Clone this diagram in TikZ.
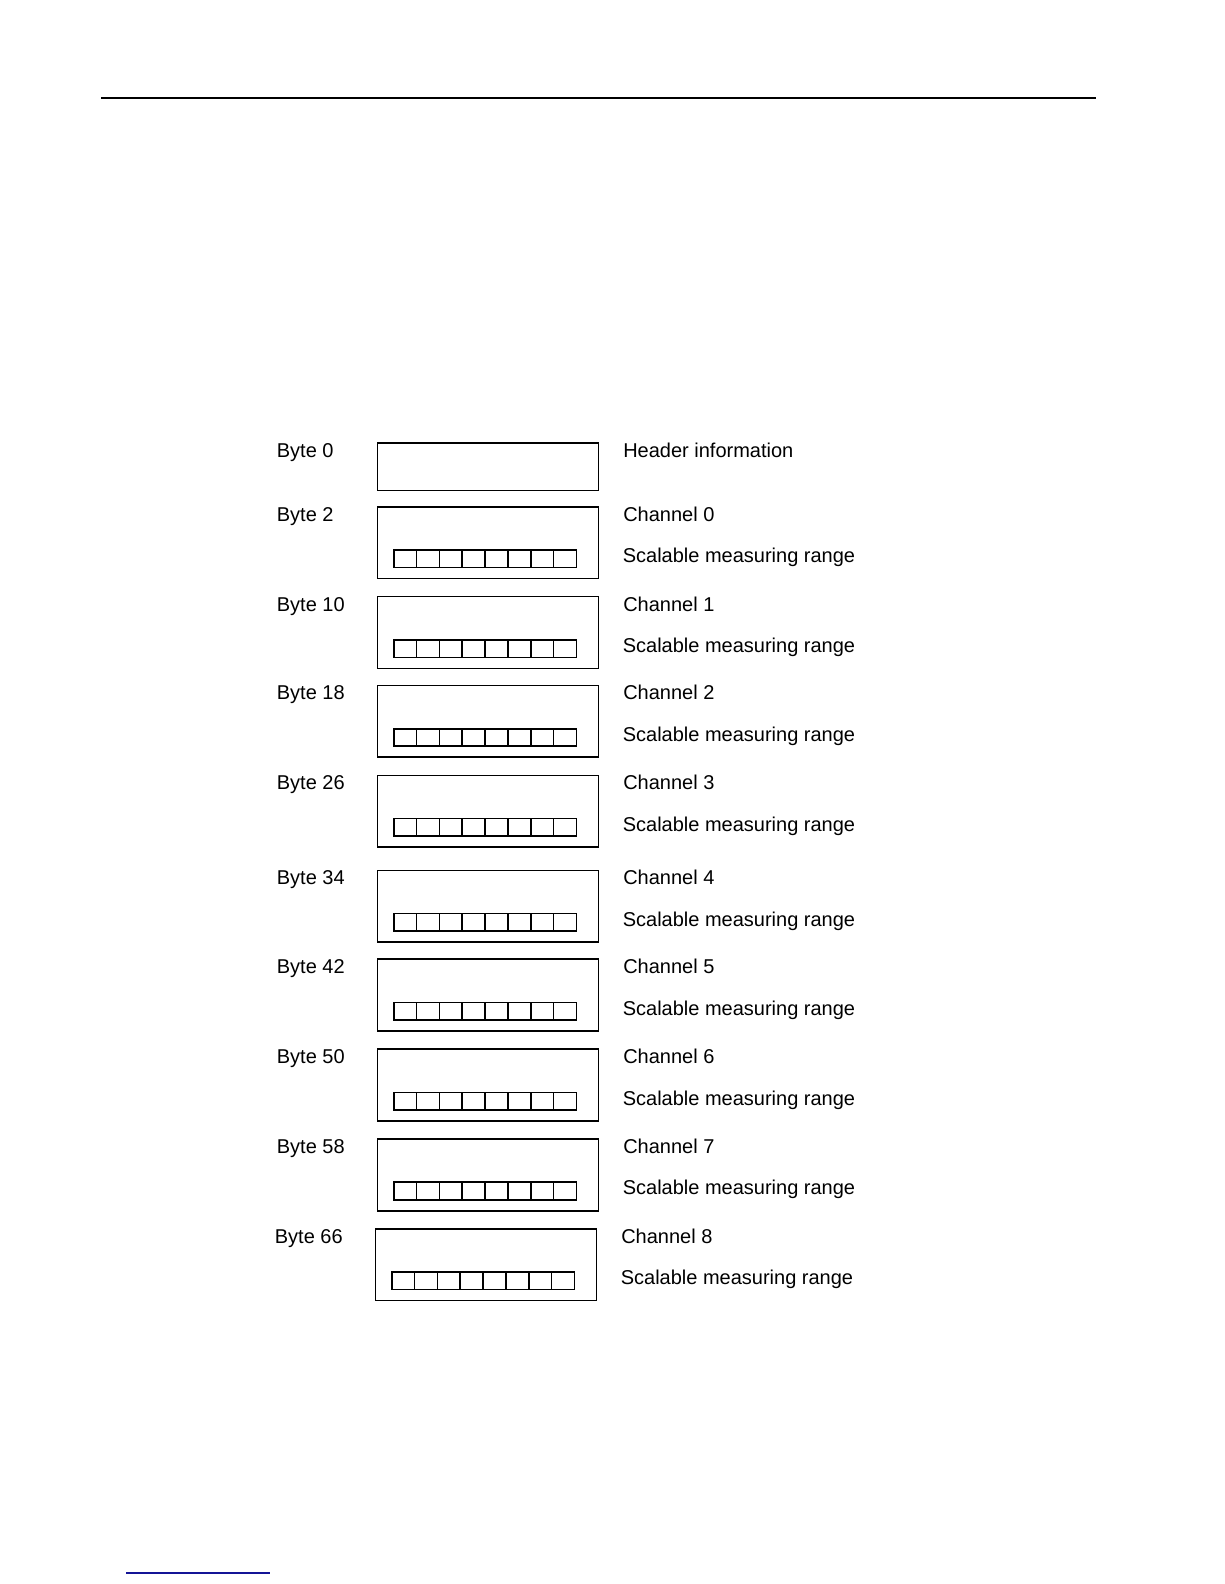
\documentclass[tikz,border=0pt]{standalone}
\usepackage{fontspec}
\setmainfont{Liberation Sans}
\definecolor{linkblue}{RGB}{20,20,150}
\begin{document}
\begin{tikzpicture}[x=1pt,y=-1pt,
  lab/.style={anchor=base west, inner sep=0pt, font=\fontsize{20}{24}\selectfont},
  frame/.style={draw, line width=1.6pt, inner sep=0pt, anchor=north west, minimum width=221pt, minimum height=71.7pt},
  hdrframe/.style={frame, minimum height=47.5pt},
  bitcell/.style={draw, line width=1.6pt, inner sep=0pt, anchor=north west, minimum width=22.84pt, minimum height=17.5pt}]
\useasboundingbox (0,0) rectangle (1224,1584);
\coordinate (tl) at (101,98);
\coordinate (tr) at (1096,98);
\draw[line width=1.3pt] (tl) -- (tr);
\coordinate (bl) at (126,1573);
\coordinate (br) at (270,1573);
\draw[line width=1.5pt, linkblue] (bl) -- (br);
% header
\node[hdrframe] (hdr) at (376.7,442.3) {};
\node[lab] (byte0) at (276.7,457.5) {Byte 0};
\node[lab] (hdrlab) at (623.1,457.5) {Header information};
% channels
\foreach \i/\byte/\top/\xo in {0/2/506.0/0, 1/10/595.8/0, 2/18/684.7/0, 3/26/774.6/0, 4/34/869.5/0, 5/42/958.4/0, 6/50/1048.3/0, 7/58/1138.2/0, 8/66/1228.0/-2}{
  \node[frame] (box\i) at (376.7+\xo,\top) {};
  \foreach \j in {0,...,7}{
    \node[bitcell] (b\i-\j) at (392.9+\xo+\j*22.84,\top+43.2) {};
  }
  \node[lab] (byte\i) at (276.7+\xo,\top+15.2) {Byte \byte};
  \node[lab] (ch\i) at (623.1+\xo,\top+15.2) {Channel \i};
  \node[lab] (sc\i) at (622.6+\xo,\top+56.7) {Scalable measuring range};
}
\end{tikzpicture}
\end{document}
